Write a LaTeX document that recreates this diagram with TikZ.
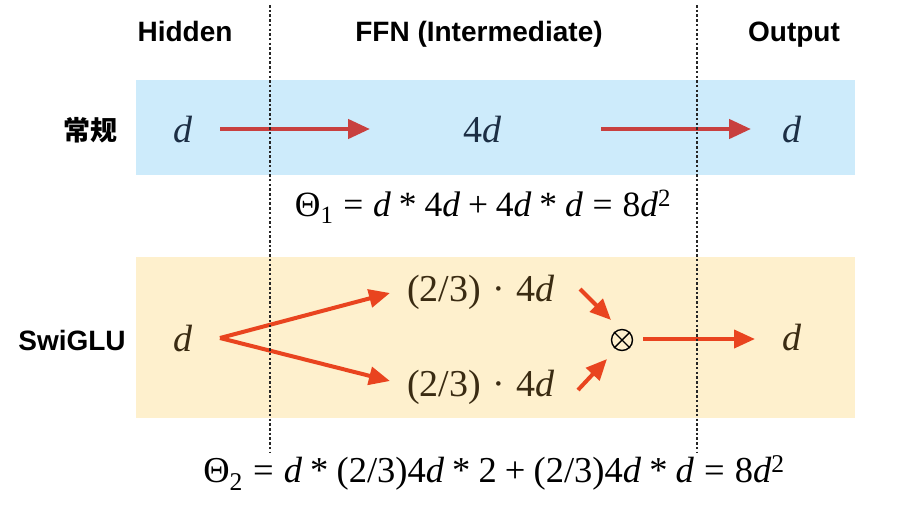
\documentclass[tikz,border=0pt]{standalone}
\usepackage{fontspec}
\setmainfont{Liberation Serif}
\setsansfont{Liberation Sans}
\newfontfamily\cjkfont{Noto Sans CJK SC}
\usetikzlibrary{arrows.meta,calc}
\definecolor{bandA}{HTML}{CDEBFB}
\definecolor{bandB}{HTML}{FEF0CD}
\definecolor{arrowA}{HTML}{C8403F}
\definecolor{arrowB}{HTML}{E9441F}
\definecolor{textA}{HTML}{1C2E44}
\definecolor{textB}{HTML}{3A2B12}
\newcommand{\vd}{\textit{d}}
\newcommand{\mybin}[1]{\hspace{.222em}#1\hspace{.222em}}
\newcommand{\myrel}[1]{\hspace{.278em}#1\hspace{.278em}}
\newcommand{\myast}{\mybin{*}}
\begin{document}
\begin{tikzpicture}[x=1pt,y=-1pt,
  lab/.style={font=\sffamily\bfseries\fontsize{28}{30}\selectfont, inner sep=0, anchor=base},
  cjklab/.style={font=\cjkfont\bfseries\fontsize{27}{29}\selectfont, inner sep=0},
  mtA/.style={text=textA, font=\fontsize{38}{40}\selectfont, inner sep=0, anchor=base},
  mtB/.style={text=textB, font=\fontsize{38}{40}\selectfont, inner sep=0, anchor=base},
  mtL/.style={text=textB, font=\fontsize{38}{40}\selectfont, inner sep=0, anchor=base},
  formula/.style={text=black, font=\fontsize{35.5}{38}\selectfont, inner sep=0, anchor=base},
  otimesnode/.style={circle, draw=black, line width=1.4pt, minimum size=21pt, inner sep=0},
  arrA/.style={draw=arrowA, line width=4.5pt, -{Triangle[length=22pt,width=19pt]}},
  arrB/.style={draw=arrowB, line width=4pt, -{Triangle[length=21pt,width=18pt]}},
  dashline/.style={draw=black!85, line width=1.3pt, dash pattern=on 2.5pt off 2.2pt}
]
\useasboundingbox (0,0) rectangle (915,507);
% bands
\fill[bandA] (136,80) rectangle (855,175);
\fill[bandB] (136,257) rectangle (855,418);
% headers
\node[lab] (hh) at (185,41) {Hidden};
\node[lab] (hf) at (479,41) {FFN (Intermediate)};
\node[lab] (ho) at (794,41) {Output};
% row labels
\node[cjklab] (rn) at (90,130) {常规};
\node[lab] (rs) at (72,350) {SwiGLU};
% row 1
\node[mtA] (a1) at (183,142) {\vd};
\node[mtA] (a2) at (483,142) {4\vd};
\node[mtA] (a3) at (792,142) {\vd};
\draw[arrA] ($(a1.base)+(37,-13)$) -- ($(a2.base)+(-113,-13)$);
\draw[arrA] ($(a2.base)+(118,-13)$) -- ($(a3.base)+(-41,-13)$);
\node[formula] (f1) at (483,216) {Θ\textsubscript{1}\myrel{=}\vd\myast4\vd\mybin{+}4\vd\myast\vd\myrel{=}8\vd\textsuperscript{2}};
% row 2
\node[mtB] (b1) at (183,351) {\vd};
\node[mtL] (u) at (481,301) {(2/3)\hspace{.3em}·\hspace{.3em}4\vd};
\node[mtL] (l) at (481,396) {(2/3)\hspace{.3em}·\hspace{.3em}4\vd};
\node[otimesnode] (ot) at (622,340) {};
\draw[black, line width=1.4pt] (ot.45) -- (ot.225) (ot.135) -- (ot.315);
\node[mtB] (b3) at (792,350) {\vd};
\draw[arrB] ($(b1.base)+(37,-13)$) -- ($(u.base)+(-91,-8)$);
\draw[arrB] ($(b1.base)+(37,-13)$) -- ($(l.base)+(-91,-15)$);
\draw[arrB] ($(u.base)+(99,-12)$) -- ($(ot)+(-11,-20)$);
\draw[arrB] ($(l.base)+(97,-6)$) -- ($(ot)+(-15,19)$);
\draw[arrB] ($(ot)+(21,-1)$) -- ($(b3.base)+(-37,-11)$);
\node[formula, font=\fontsize{36.5}{38}\selectfont] (f2) at (494,482) {Θ\textsubscript{2}\myrel{=}\vd\myast(2/3)4\vd\myast2\mybin{+}(2/3)4\vd\myast\vd\myrel{=}8\vd\textsuperscript{2}};
% dividers
\draw[dashline] (270,5) -- (270,453);
\draw[dashline] (697,5) -- (697,453);
\end{tikzpicture}
\end{document}
